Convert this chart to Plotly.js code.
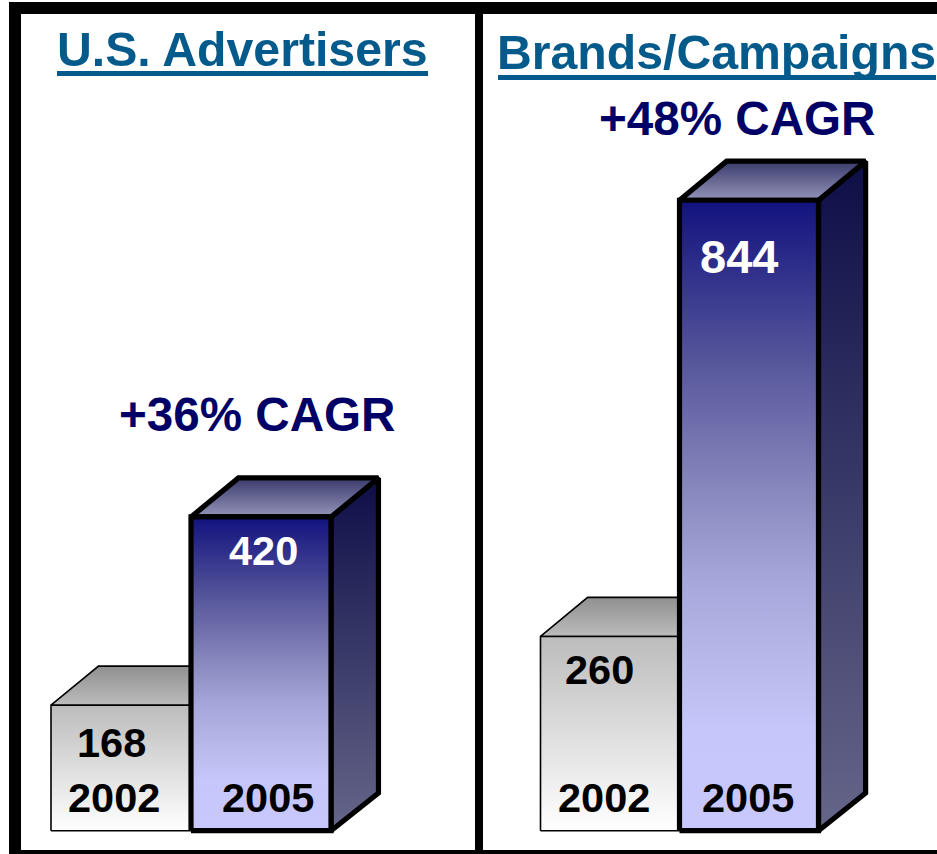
<!DOCTYPE html>
<html>
<head>
<meta charset="utf-8">
<script src="https://cdn.plot.ly/plotly-3.0.1.min.js"></script>
<style>html,body{margin:0;padding:0;background:#fff}#chart{width:937px;height:854px}</style>
</head>
<body>
<div id="chart"></div>
<script>
// ---- data ----
const years = ['2002', '2005'];
const advertisers = [168, 420];
const brands = [260, 844];
const panelTitles = ['U.S. Advertisers', 'Brands/Campaigns'];
const cagrLabels = ['+36% CAGR', '+48% CAGR'];

// ---- styling ----
const W = 937, H = 854;
const PX_PER_UNIT = 0.747, BASE_PX = 830.7;
const yRange = [-(H - BASE_PX) / PX_PER_UNIT, BASE_PX / PX_PER_UNIT];
const DX = 0.339, DY = 52.3, DY_BASE = 50.5;   // depth of the 3-D box, in axis units
const FONT = 'Liberation Sans, Arial, sans-serif';
const TITLE = '#055a8c', NAVY = '#000066';

const scales = {
  blueFront: [[0, '#c8c8fc'], [0.16, '#c6c6fa'], [0.24, '#bcbcee'], [0.40, '#a6a6da'], [0.54, '#8888be'], [0.75, '#54549a'], [1, '#12127f']],
  blueSide:  [[0, '#66668a'], [1, '#0e0e48']],
  blueTop:   [[0, '#9494ba'], [1, '#3a3a6c']],
  grayFront: [[0, '#ffffff'], [1, '#bcbcbc']],
  grayTop:   [[0, '#bcbcbc'], [1, '#909090']]
};

function poly(xs, ys, scale, lw, xa, ya) {
  return {
    type: 'scatter', mode: 'lines', x: xs, y: ys, xaxis: xa, yaxis: ya,
    fill: 'toself', line: {color: '#000', width: lw, shape: 'linear'},
    fillgradient: {type: 'vertical', colorscale: scale},
    hoverinfo: 'skip', showlegend: false
  };
}

// one box per value, positions derive from category index and value
function box(i, v, kind, lw, xa, ya) {
  const l = i - 0.5, r = i + 0.5;
  const front = scales[kind + 'Front'], top = scales[kind + 'Top'], side = scales[kind + 'Side'];
  const out = [];
  if (side) out.push(poly([r, r + DX, r + DX, r, r], [0, DY_BASE, v + DY, v, 0], side, lw, xa, ya));
  out.push(poly([l, l + DX, r + DX, r, l], [v, v + DY, v + DY, v, v], top, lw, xa, ya));
  out.push(poly([l, r, r, l, l], [0, 0, v, v, 0], front, lw, xa, ya));
  return out;
}

function panel(values, xa, ya) {
  const bars = {
    type: 'bar', x: [0, 1], y: values, width: 1, xaxis: xa, yaxis: ya,
    marker: {color: ['#dddddd', '#8e8ec4'], line: {width: 0}},
    hoverinfo: 'skip', showlegend: false
  };
  return [bars].concat(box(0, values[0], 'gray', 1.6, xa, ya), box(1, values[1], 'blue', 5.2, xa, ya));
}

const data = panel(advertisers, 'x', 'y').concat(panel(brands, 'x2', 'y2'));

function ann(xref, yref, x, y, text, size, color) {
  return {xref, yref, x, y, text, showarrow: false, xanchor: 'center', yanchor: 'middle',
          font: {family: FONT, size, color, weight: 'bold'}};
}
const T1 = 48.2, T2 = 47.6, L = 41.5;
const annotations = [
  ann('x', 'y', 0.871, 1047, panelTitles[0], T1, TITLE),
  ann('x', 'y', 0.968, 557, cagrLabels[0], T2, NAVY),
  ann('x', 'y', -0.068, 118, String(advertisers[0]), L, '#000'),
  ann('x', 'y', 1.02, 375, String(advertisers[1]), L, '#fff'),
  ann('x', 'y', -0.05, 44.5, years[0], L, '#000'),
  ann('x', 'y', 1.05, 44.5, years[1], L, '#000'),
  ann('x2', 'y2', 0.763, 1042, panelTitles[1], T1, TITLE),
  ann('x2', 'y2', 0.914, 953, cagrLabels[1], T2, NAVY),
  ann('x2', 'y2', -0.072, 216, String(brands[0]), L, '#000'),
  ann('x2', 'y2', 0.928, 769, String(brands[1]), 47, '#fff'),
  ann('x2', 'y2', -0.043, 44.5, years[0], L, '#000'),
  ann('x2', 'y2', 0.993, 44.5, years[1], L, '#000')
];

function rect(x0, y0, x1, y1, color) {
  return {type: 'rect', xref: 'paper', yref: 'paper', layer: 'above',
          x0: x0 / W, x1: x1 / W, y0: 1 - y0 / H, y1: 1 - y1 / H,
          fillcolor: color, line: {width: 0}};
}
const shapes = [
  rect(9, 2, W, 14, '#000'),
  rect(9, 2, 21, 854, '#000'),
  rect(475, 2, 483, 854, '#000'),
  rect(9, 850, W, 854, '#000'),
  rect(57, 71, 428, 76, TITLE),
  rect(498, 75, 936, 80, TITLE)
];

const hiddenAxis = {showgrid: false, zeroline: false, showticklabels: false, ticks: '', showline: false, fixedrange: true};
const layout = {
  width: W, height: H, margin: {l: 0, r: 0, t: 0, b: 0, pad: 0},
  paper_bgcolor: '#fff', plot_bgcolor: '#fff', showlegend: false, hovermode: false,
  barmode: 'overlay',
  xaxis:  Object.assign({}, hiddenAxis, {domain: [0, 480 / W], range: [-121 / 140, 359 / 140]}),
  yaxis:  Object.assign({}, hiddenAxis, {range: yRange}),
  xaxis2: Object.assign({}, hiddenAxis, {domain: [480 / W, 1], range: [-130 / 139, 327 / 139], anchor: 'y2'}),
  yaxis2: Object.assign({}, hiddenAxis, {range: yRange, anchor: 'x2'}),
  annotations, shapes
};

Plotly.newPlot('chart', data, layout, {staticPlot: true, displayModeBar: false});
</script>
</body>
</html>
